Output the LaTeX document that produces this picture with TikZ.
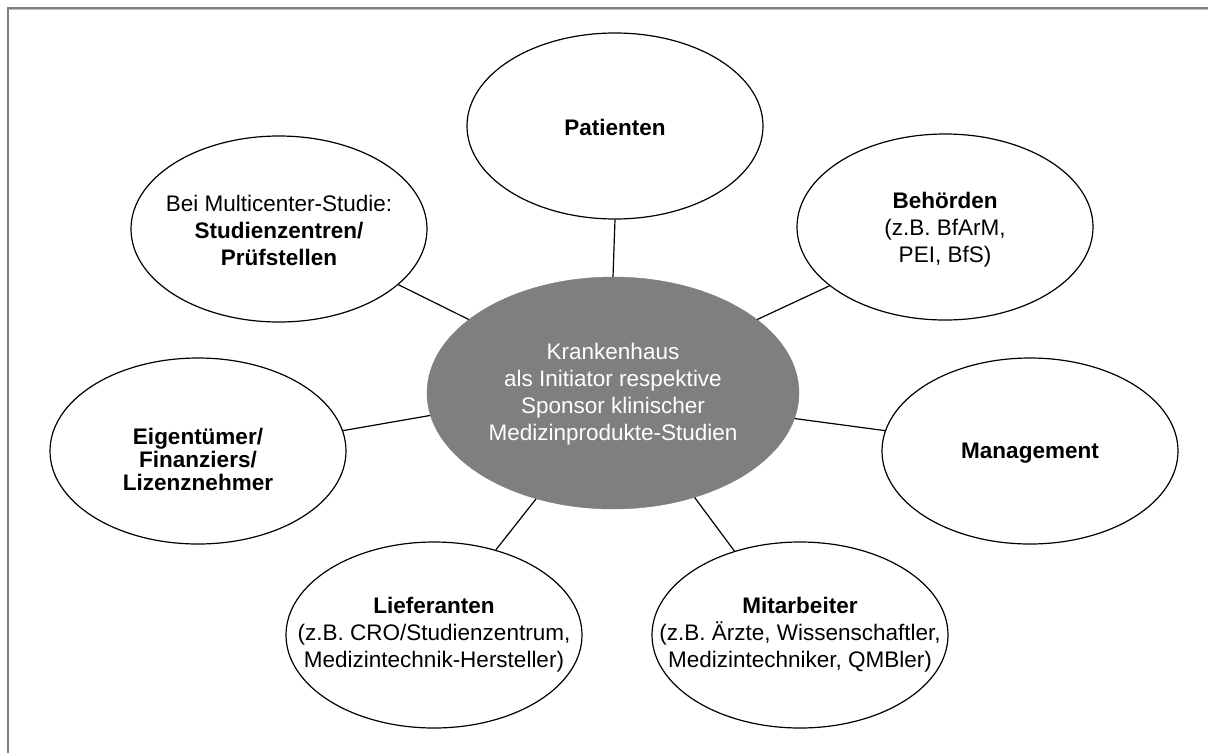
\documentclass[tikz,border=0pt]{standalone}
\usepackage{fontspec}
\setmainfont{Liberation Sans}
\usetikzlibrary{shapes.geometric}
\definecolor{hubgray}{HTML}{7F7F7F}
\definecolor{framedark}{HTML}{808080}
\definecolor{framelight}{HTML}{C0C0C0}
\begin{document}
\begin{tikzpicture}[x=1pt,y=-1pt,
  bub/.style={ellipse, draw=black, line width=1.2pt, fill=white, minimum width=296pt, minimum height=186pt, inner sep=0pt},
  hub/.style={ellipse, fill=hubgray, draw=hubgray, minimum width=372pt, minimum height=232pt, inner sep=0pt},
  lbl/.style={align=center, font=\fontsize{22.5}{27}\selectfont, inner sep=0pt},
  tightlbl/.style={align=center, font=\fontsize{22.5}{23}\selectfont, inner sep=0pt},
  link/.style={line width=1.2pt, draw=black},
  framestyle/.style={line width=2pt, draw=framedark}
]
\useasboundingbox (0,0) rectangle (1208,753);
% frame
\coordinate (fa) at (7.5,753);
\coordinate (fb) at (7.5,7.5);
\coordinate (fc) at (1208,7.5);
\draw[framestyle] (fa) -- (fb) -- (fc);
\coordinate (fd) at (9,9);
\coordinate (fe) at (1208,9);
\draw[framelight, line width=0.8pt] (fd) -- (fe);

% nodes
\node[hub] (hub) at (613,393) {};
\node[bub] (pat) at (615,126) {};
\node[bub] (beh) at (945,227) {};
\node[bub] (stu) at (279,229) {};
\node[bub] (man) at (1030,451) {};
\node[bub] (eig) at (198,451) {};
\node[bub] (lie) at (434,635) {};
\node[bub] (mit) at (800,635) {};

% connectors
\draw[link] (pat.south) -- (hub.north);
\draw[link] (stu.335) -- (hub.153);
\draw[link] (beh.207) -- (hub.27);
\draw[link] (man.172) -- (hub.352);
\draw[link] (eig.8) -- (hub.187);
\draw[link] (lie.54) -- (hub.234);
\draw[link] (mit.128) -- (hub.308);

% texts
\node[lbl, text=white] (thub) at (613,394) {Krankenhaus\\als Initiator respektive\\Sponsor klinischer\\Medizinprodukte-Studien};
\node[lbl] (tpat) at (615,127) {\textbf{Patienten}};
\node[lbl] (tbeh) at (945,230) {\textbf{Behörden}\\(z.B. BfArM,\\PEI, BfS)};
\node[lbl] (tstu) at (279,230) {Bei Multicenter-Studie:\\\textbf{Studienzentren/}\\\textbf{Prüfstellen}};
\node[lbl] (tman) at (1030,453) {\textbf{Management}};
\node[tightlbl] (teig) at (198,459) {\textbf{Eigentümer/}\\\textbf{Finanziers/}\\\textbf{Lizenznehmer}};
\node[lbl] (tlie) at (434,635) {\textbf{Lieferanten}\\(z.B. CRO/Studienzentrum,\\Medizintechnik-Hersteller)};
\node[lbl] (tmit) at (800,635) {\textbf{Mitarbeiter}\\(z.B. Ärzte, Wissenschaftler,\\Medizintechniker, QMBler)};
\end{tikzpicture}
\end{document}
